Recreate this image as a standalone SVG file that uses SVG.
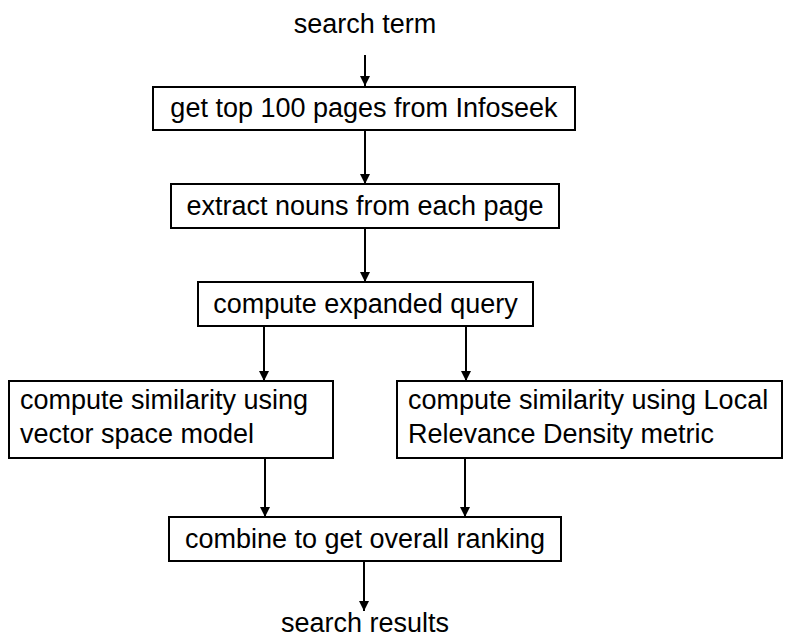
<svg xmlns="http://www.w3.org/2000/svg" width="788" height="639" viewBox="0 0 788 639">
<style>
.box{fill:#fff;stroke:#000;stroke-width:2}
.t{font-family:"Liberation Sans",Arial,sans-serif;font-size:27px;fill:#000}
.c{text-anchor:middle}
.e{stroke:#000;stroke-width:2;fill:none;marker-end:url(#ah)}
</style>
<defs>
<marker id="ah" viewBox="0 0 10 12" refX="10" refY="6" markerWidth="10" markerHeight="12" markerUnits="userSpaceOnUse" orient="auto">
<path d="M0,1 L10,6 L0,11 Z" fill="#000"/>
</marker>
</defs>
<rect width="788" height="639" fill="#fff"/>
<g id="connectors">
<line class="e" x1="365" y1="55" x2="365" y2="86"/>
<line class="e" x1="365" y1="130" x2="365" y2="184"/>
<line class="e" x1="365" y1="228" x2="365" y2="282"/>
<line class="e" x1="264" y1="326" x2="264" y2="381"/>
<line class="e" x1="466" y1="326" x2="466" y2="381"/>
<line class="e" x1="265" y1="458" x2="265" y2="517"/>
<line class="e" x1="465" y1="458" x2="465" y2="517"/>
<line class="e" x1="364" y1="561" x2="364" y2="611"/>
</g>
<g id="start"><text class="t c" x="365" y="33">search term</text></g>
<g id="n1"><rect class="box" x="153" y="87" width="422" height="43"/><text class="t c" x="364" y="117">get top 100 pages from Infoseek</text></g>
<g id="n2"><rect class="box" x="171" y="184" width="388" height="44"/><text class="t c" x="365" y="215">extract nouns from each page</text></g>
<g id="n3"><rect class="box" x="198" y="282" width="335" height="44"/><text class="t c" x="365.5" y="313">compute expanded query</text></g>
<g id="n4"><rect class="box" x="9" y="381" width="324" height="77"/><text class="t" x="20" y="409">compute similarity using</text><text class="t" x="20" y="443">vector space model</text></g>
<g id="n5"><rect class="box" x="397" y="381" width="385" height="77"/><text class="t" x="408" y="409">compute similarity using Local</text><text class="t" x="408" y="443">Relevance Density metric</text></g>
<g id="n6"><rect class="box" x="169" y="517" width="392" height="44"/><text class="t c" x="365" y="548">combine to get overall ranking</text></g>
<g id="end"><text class="t c" x="365" y="632">search results</text></g>
</svg>
